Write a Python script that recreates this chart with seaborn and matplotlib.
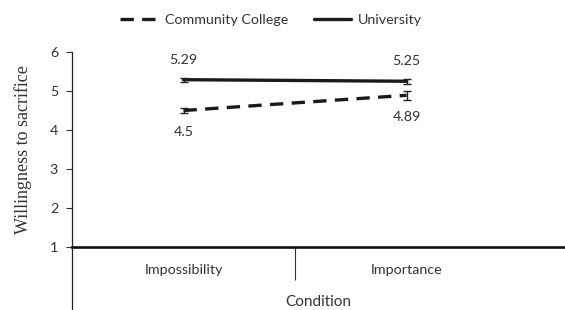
import matplotlib
matplotlib.use("Agg")
import matplotlib.pyplot as plt
from matplotlib.lines import Line2D
import numpy as np
import pandas as pd
import seaborn as sns

# data
conditions = ["Impossibility", "Importance"]
groups = ["Community College", "University"]
cc_means = [4.5, 4.89]
uni_means = [5.29, 5.25]
cc_err = [0.07, 0.12]
uni_err = [0.05, 0.06]
yticks = [1, 2, 3, 4, 5, 6]

sns.set_theme(style="white")
plt.rcParams["font.family"] = ["Lato", "DejaVu Sans"]

pos = np.arange(len(conditions))
df = pd.DataFrame({
    "pos": np.concatenate([pos, pos]),
    "Condition": conditions * 2,
    "group": [groups[0]] * 2 + [groups[1]] * 2,
    "value": cc_means + uni_means,
})

fig = plt.figure(figsize=(5.65, 3.10), dpi=100)
ax = fig.add_axes([0.1274, 0.2032, 0.8726, 0.6291])

sns.lineplot(data=df, x="pos", y="value", style="group", hue="group",
             palette=["#1a1a1a", "#1a1a1a"], dashes={groups[0]: (4, 2.5), groups[1]: ""},
             linewidth=2.4, legend=False, ax=ax)

ax.errorbar(pos, cc_means, yerr=cc_err, fmt="none", ecolor="#222222",
            elinewidth=1.0, capsize=3, capthick=1.0)
ax.errorbar(pos, uni_means, yerr=uni_err, fmt="none", ecolor="#222222",
            elinewidth=1.0, capsize=3, capthick=1.0)

fs = 10.3
# data labels
for x, v in zip(pos, uni_means):
    ax.annotate(f"{v:g}", (x, v), xytext=(0, 10), textcoords="offset points",
                ha="center", va="bottom", fontsize=fs, color="#333333")
for x, v in zip(pos, cc_means):
    ax.annotate(f"{v:g}", (x, v), xytext=(0, -11), textcoords="offset points",
                ha="center", va="top", fontsize=fs, color="#333333")

ax.set_ylim(1, 6)
ax.set_yticks(yticks)
ax.set_xlim(-0.5, 1.71)
ax.set_xticks(pos)
ax.set_xticklabels(conditions)
ax.set_xticks([0.5], minor=True)
ax.tick_params(axis="x", which="major", length=0, pad=12, labelsize=fs, labelcolor="#333333")
ax.tick_params(axis="x", which="minor", length=24, width=0.8, direction="out", color="#333333", bottom=True)
ax.tick_params(axis="y", length=4, width=0.8, direction="out", color="#333333", left=True,
               labelsize=fs, labelcolor="#333333", pad=6)

for s in ["top", "right"]:
    ax.spines[s].set_visible(False)
ax.spines["left"].set_linewidth(0.9)
ax.spines["left"].set_color("#222222")
ax.spines["bottom"].set_linewidth(1.9)
ax.spines["bottom"].set_color("#111111")

# vertical axis continues below the category axis
ax.add_line(Line2D([0, 0], [0, -0.33], transform=ax.transAxes, clip_on=False,
                   color="#222222", linewidth=0.9))

ax.set_xlabel("Condition", fontsize=11, color="#333333", labelpad=7)
ax.set_ylabel("Willingness to sacrifice", family=["Liberation Serif", "DejaVu Serif"],
              fontsize=13, color="#333333", labelpad=13)

handles = [Line2D([], [], color="#1a1a1a", linewidth=2.4, dashes=(4, 2.5)),
           Line2D([], [], color="#1a1a1a", linewidth=2.4)]
fig.legend(handles, groups, loc="upper center", bbox_to_anchor=(0.48, 0.995), ncol=2,
           frameon=False, fontsize=fs, handlelength=2.6, handletextpad=0.5,
           columnspacing=1.8, labelcolor="#333333")

fig.savefig("out.png", dpi=100)
